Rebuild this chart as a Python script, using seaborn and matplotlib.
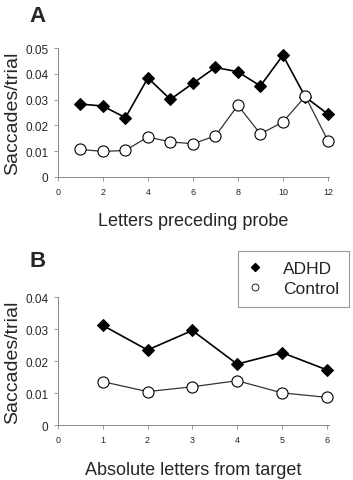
import matplotlib
matplotlib.use("Agg")
import matplotlib.pyplot as plt
from matplotlib.lines import Line2D
import seaborn as sns

# Panel A: letters preceding probe
letters_a = [1, 2, 3, 4, 5, 6, 7, 8, 9, 10, 11, 12]
adhd_a = [0.0283, 0.0275, 0.0230, 0.0384, 0.0301, 0.0363, 0.0425, 0.0408, 0.0353, 0.0472, 0.0310, 0.0244]
control_a = [0.0107, 0.0099, 0.0103, 0.0155, 0.0136, 0.0129, 0.0159, 0.0278, 0.0167, 0.0213, 0.0313, 0.0141]

# Panel B: absolute letters from target
letters_b = [1, 2, 3, 4, 5, 6]
adhd_b = [0.0312, 0.0235, 0.0296, 0.0191, 0.0227, 0.0173]
control_b = [0.0136, 0.0105, 0.0120, 0.0139, 0.0101, 0.0087]

xticks_a = [0, 2, 4, 6, 8, 10, 12]
yticks_a = [0, 0.01, 0.02, 0.03, 0.04, 0.05]
xticks_b = [0, 1, 2, 3, 4, 5, 6]
yticks_b = [0, 0.01, 0.02, 0.03, 0.04]

sns.set_style("ticks")
plt.rcParams['font.family'] = ['Liberation Sans', 'DejaVu Sans']

fig = plt.figure(figsize=(3.53, 4.81), dpi=100)
ax_a = fig.add_axes([0.164, 0.630, 0.768, 0.268])
ax_b = fig.add_axes([0.164, 0.114, 0.768, 0.266])


def draw_panel(ax, x, adhd, control, xticks, yticks, xlabel):
    sns.lineplot(x=x, y=adhd, ax=ax, color='black', lw=1.2, marker='D',
                 markersize=6, markerfacecolor='black', markeredgecolor='black')
    sns.lineplot(x=x, y=control, ax=ax, color='#333333', lw=0.9, marker='o',
                 markersize=8, markerfacecolor='white', markeredgecolor='black',
                 markeredgewidth=0.8)
    ax.set_xlim(xticks[0], xticks[-1] + 0.05)
    ax.set_ylim(yticks[0], yticks[-1])
    ax.set_xticks(xticks)
    ax.set_yticks(yticks)
    ax.set_yticklabels(['0' if v == 0 else f'{v:.2f}' for v in yticks], fontsize=8.5)
    ax.set_xticklabels([str(v) for v in xticks], fontsize=6.5)
    ax.tick_params(axis='both', length=3, width=0.6, color='#888888', pad=4)
    for s in ['left', 'bottom']:
        ax.spines[s].set_color('#888888')
        ax.spines[s].set_linewidth(0.7)
    sns.despine(ax=ax)
    for ln in ax.lines:
        ln.set_clip_on(False)
    ax.set_ylabel('Saccades/trial', fontsize=14, labelpad=3)
    ax.set_xlabel(xlabel, fontsize=13, labelpad=12)


draw_panel(ax_a, letters_a, adhd_a, control_a, xticks_a, yticks_a, 'Letters preceding probe')
draw_panel(ax_b, letters_b, adhd_b, control_b, xticks_b, yticks_b, 'Absolute letters from target')

fig.text(0.083, 0.988, 'A', fontsize=16, fontweight='bold', va='top', ha='left')
fig.text(0.083, 0.478, 'B', fontsize=16, fontweight='bold', va='top', ha='left')

handles = [
    Line2D([], [], ls='none', marker='D', markersize=4.5, color='black'),
    Line2D([], [], ls='none', marker='o', markersize=5, markerfacecolor='white',
           markeredgecolor='black', markeredgewidth=0.6),
]
leg = fig.legend(handles, ['ADHD', 'Control'], loc='upper right',
                 bbox_to_anchor=(0.99, 0.477), fontsize=12.5, frameon=True,
                 fancybox=False, framealpha=1, edgecolor='#999999',
                 handletextpad=1.2, borderpad=0.6, labelspacing=0.3,
                 handlelength=0.8, borderaxespad=0)
leg.get_frame().set_linewidth(0.8)

fig.savefig('out.png', dpi=100)
